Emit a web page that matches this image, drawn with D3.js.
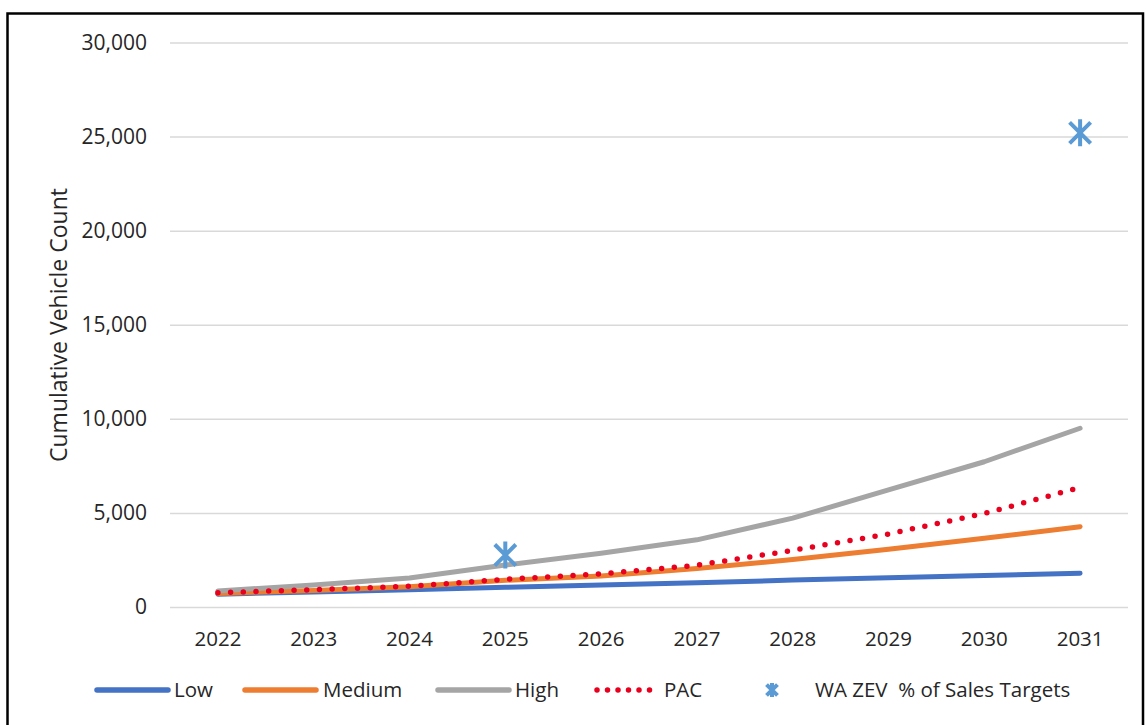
<!DOCTYPE html>
<html>
<head>
<meta charset="utf-8">
<script src="https://cdn.jsdelivr.net/npm/d3@7"></script>
<style>
  html, body { margin: 0; padding: 0; background: #fff; }
  svg { display: block; }
  text { font-family: "Open Sans", "Noto Sans", sans-serif; fill: #262626; }
</style>
</head>
<body>
<svg id="chart" width="1146" height="725"></svg>
<script>
// Cumulative vehicle count projections by scenario
const years = ["2022", "2023", "2024", "2025", "2026", "2027", "2028", "2029", "2030", "2031"];
const low    = [680, 800, 920, 1050, 1170, 1290, 1430, 1560, 1670, 1790];
const medium = [720, 880, 1080, 1420, 1650, 2050, 2520, 3070, 3650, 4270];
const high   = [850, 1170, 1540, 2230, 2860, 3570, 4720, 6220, 7720, 9500];
const pac    = [760, 920, 1100, 1470, 1760, 2220, 3010, 3880, 4970, 6350];

// WA ZEV % of sales targets (only two target years)
const targetYears  = ["2025", "2031"];
const targetValues = [2760, 25200];

const yTicks = [0, 5000, 10000, 15000, 20000, 25000, 30000];

const series = [
  { name: "Low",    values: low,    color: "#4472C4", dotted: false },
  { name: "Medium", values: medium, color: "#ED7D31", dotted: false },
  { name: "High",   values: high,   color: "#A5A5A5", dotted: false },
  { name: "PAC",    values: pac,    color: "#E8001E", dotted: true }
];

const svg = d3.select("#chart");
svg.append("rect").attr("width", 1146).attr("height", 725).attr("fill", "#fff");

// outer frame
svg.append("path")
  .attr("d", "M7.5,730 L7.5,13.5 L1143,13.5 L1143,730")
  .attr("fill", "none").attr("stroke", "#000").attr("stroke-width", 2.5);

const x = d3.scaleBand().domain(years).range([170, 1128]);
const y = d3.scaleLinear().domain([0, 30000]).range([607, 42.5]);
const cx = d => x(d) + x.bandwidth() / 2;

// gridlines
svg.append("g")
  .attr("transform", "translate(170,0)")
  .call(d3.axisLeft(y).tickValues(yTicks).tickSize(-958).tickFormat(""))
  .call(g => g.select(".domain").remove())
  .call(g => g.selectAll("line").attr("stroke", "#D9D9D9").attr("stroke-width", 1.5));

// y axis labels
svg.append("g")
  .attr("transform", "translate(170,0)")
  .call(d3.axisLeft(y).tickValues(yTicks).tickSize(0).tickPadding(23).tickFormat(d3.format(",")))
  .call(g => g.select(".domain").remove())
  .call(g => g.selectAll("text").style("font-size", "21px").attr("fill", "#262626")
    .style("font-family", "'Open Sans', sans-serif"));

// x axis labels
svg.append("g")
  .attr("transform", "translate(0,607)")
  .call(d3.axisBottom(x).tickSize(0).tickPadding(24))
  .call(g => g.select(".domain").remove())
  .call(g => g.selectAll("text").style("font-size", "20.5px").attr("fill", "#262626")
    .style("font-family", "'Open Sans', sans-serif"));

// y axis title
svg.append("text")
  .attr("transform", "translate(67,325) rotate(-90)")
  .attr("text-anchor", "middle")
  .style("font-size", "23px")
  .text("Cumulative Vehicle Count");

// scenario lines
const line = d3.line().x((d, i) => cx(years[i])).y(d => y(d));
series.forEach(s => {
  const p = svg.append("path")
    .datum(s.values)
    .attr("d", line)
    .attr("fill", "none")
    .attr("stroke", s.color)
    .attr("stroke-linecap", "round")
    .attr("stroke-linejoin", "round");
  if (s.dotted) {
    p.attr("stroke-width", 5.5).attr("stroke-dasharray", "0 12.7");
  } else {
    p.attr("stroke-width", 5);
  }
});

// star marker (X with a vertical bar)
function star(g, px, py, r, w) {
  const k = r * 0.78;
  g.append("path")
    .attr("d", `M${px - k},${py - k}L${px + k},${py + k}M${px - k},${py + k}L${px + k},${py - k}M${px},${py - r}L${px},${py + r}`)
    .attr("stroke", "#5B9BD5").attr("stroke-width", w).attr("fill", "none");
}
const tg = svg.append("g");
targetYears.forEach((yr, i) => star(tg, cx(yr), y(targetValues[i]), 13.5, 4));

// legend
const lg = svg.append("g");
const ly = 690;
const legendItems = [
  { x0: 97,  x1: 168, tx: 174, s: series[0] },
  { x0: 245, x1: 316, tx: 323, s: series[1] },
  { x0: 438, x1: 509, tx: 515, s: series[2] },
  { x0: 597, x1: 652, tx: 664, s: series[3] }
];
legendItems.forEach(it => {
  const p = lg.append("line")
    .attr("x1", it.x0).attr("x2", it.x1).attr("y1", ly).attr("y2", ly)
    .attr("stroke", it.s.color).attr("stroke-linecap", "round");
  if (it.s.dotted) p.attr("stroke-width", 5.5).attr("stroke-dasharray", "0 10.5");
  else p.attr("stroke-width", 5.5);
  lg.append("text").attr("x", it.tx).attr("y", ly).attr("dy", "0.35em")
    .style("font-size", "20.5px").text(it.s.name);
});
star(lg, 772, ly, 7, 4);
lg.append("text").attr("x", 815).attr("y", ly).attr("dy", "0.35em")
  .style("font-size", "20.5px").style("white-space", "pre")
  .attr("xml:space", "preserve")
  .text("WA ZEV  % of Sales Targets");
</script>
</body>
</html>
